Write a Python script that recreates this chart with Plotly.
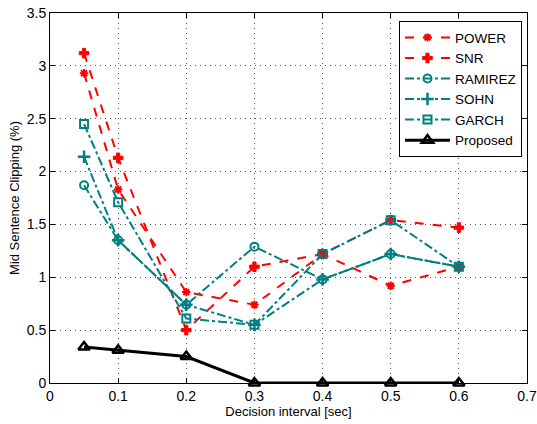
import plotly.graph_objects as go

x = [0.05, 0.1, 0.2, 0.3, 0.4, 0.5, 0.6]
power = [2.93, 1.83, 0.86, 0.74, 1.22, 0.92, 1.10]
snr = [3.12, 2.13, 0.50, 1.10, 1.22, 1.54, 1.47]
ramirez = [1.87, 1.35, 0.74, 1.29, 0.98, 1.22, 1.10]
sohn = [2.14, 1.35, 0.74, 0.55, 0.98, 1.22, 1.10]
garch = [2.45, 1.71, 0.61, 0.55, 1.22, 1.54, 1.10]
proposed = [0.34, 0.31, 0.25, 0.0, 0.0, 0.0, 0.0]

RED = "#ff0000"
TEAL = "#008080"
FONT = "Liberation Sans"

fig = go.Figure()
fig.add_trace(go.Scatter(x=x, y=power, name="POWER", mode="lines+markers",
                         line=dict(color=RED, dash="dash", width=2),
                         marker=dict(symbol="asterisk-open", size=7, line=dict(color=RED, width=2))))
fig.add_trace(go.Scatter(x=x, y=snr, name="SNR", mode="lines+markers",
                         line=dict(color=RED, dash="dash", width=2),
                         marker=dict(symbol="cross", size=8, color=RED, line=dict(color=RED, width=1))))
fig.add_trace(go.Scatter(x=x, y=ramirez, name="RAMIREZ", mode="lines+markers",
                         line=dict(color=TEAL, dash="dashdot", width=2),
                         marker=dict(symbol="circle-open", size=8, line=dict(color=TEAL, width=2))))
fig.add_trace(go.Scatter(x=x, y=sohn, name="SOHN", mode="lines+markers",
                         line=dict(color=TEAL, dash="dashdot", width=2),
                         marker=dict(symbol="cross-thin-open", size=9, line=dict(color=TEAL, width=2.5))))
fig.add_trace(go.Scatter(x=x, y=garch, name="GARCH", mode="lines+markers",
                         line=dict(color=TEAL, dash="dashdot", width=2),
                         marker=dict(symbol="square-open", size=8, line=dict(color=TEAL, width=2))))
fig.add_trace(go.Scatter(x=x, y=proposed, name="Proposed", mode="lines+markers",
                         line=dict(color="black", width=3),
                         marker=dict(symbol="triangle-up-open", size=10, line=dict(color="black", width=2.5)),
                         cliponaxis=False))

axis_common = dict(showline=True, linecolor="black", linewidth=1, mirror="allticks",
                   ticks="inside", ticklen=5, tickcolor="black",
                   showgrid=True, gridcolor="#555555", griddash="1px,4px", gridwidth=1,
                   zeroline=False, automargin=False, ticklabeloverflow="allow",
                   tickfont=dict(family=FONT, size=14, color="black"))

fig.update_xaxes(range=[0, 0.7], dtick=0.1, tickformat=".1~f",
                 title=dict(text="Decision interval [sec]", font=dict(family=FONT, size=13, color="black"), standoff=2),
                 **axis_common)
fig.update_yaxes(range=[0, 3.5], dtick=0.5, tickformat=".1~f",
                 title=dict(text="Mid Sentence Clipping (%)", font=dict(family=FONT, size=13, color="black"), standoff=4),
                 **axis_common)

fig.update_layout(
    width=537, height=424,
    margin=dict(l=50, r=10, t=13, b=41, autoexpand=False),
    paper_bgcolor="white", plot_bgcolor="white",
    font=dict(family=FONT, size=14, color="black"),
    legend=dict(x=0.9895, y=0.978, xanchor="right", yanchor="top",
                bgcolor="white", bordercolor="black", borderwidth=1,
                font=dict(family=FONT, size=13.5), tracegroupgap=0, itemwidth=45),
    showlegend=True,
)

fig.write_html("out.html", config={"displayModeBar": False},
               post_script="document.body.style.margin='0px';")
